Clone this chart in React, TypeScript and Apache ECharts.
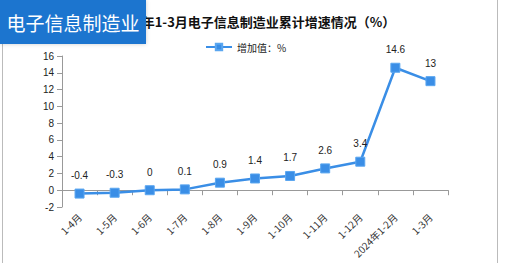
import React, { useEffect, useRef } from "react";
import * as echarts from "echarts";

const categories = ["1-4月", "1-5月", "1-6月", "1-7月", "1-8月", "1-9月", "1-10月", "1-11月", "1-12月", "2024年1-2月", "1-3月"];
const values = [-0.4, -0.3, 0, 0.1, 0.9, 1.4, 1.7, 2.6, 3.4, 14.6, 13];
const seriesName = "增加值：%";
const titleText = "2024年1-3月电子信息制造业累计增速情况（%）";
const badgeText = "电子信息制造业";

export default function App() {
  const ref = useRef<HTMLDivElement>(null);
  useEffect(() => {
    const chart = echarts.init(ref.current!, null, { renderer: "svg" });
    chart.setOption({
      animation: false,
      backgroundColor: "#fff",
      title: {
        text: titleText,
        left: 106,
        top: 10,
        textStyle: { fontSize: 13, fontWeight: "bold", color: "#111", fontFamily: "Noto Sans CJK SC" },
      },
      legend: {
        top: 37,
        left: 200,
        itemWidth: 26,
        itemHeight: 8,
        textStyle: { fontSize: 10, color: "#222", fontFamily: "Noto Sans CJK SC" },
        data: [seriesName],
      },
      grid: { left: 62, right: 62, top: 56, bottom: 56 },
      xAxis: {
        type: "category",
        data: categories,
        boundaryGap: true,
        axisLine: { lineStyle: { color: "#999" } },
        axisTick: { show: true, alignWithLabel: false, lineStyle: { color: "#999" } },
        axisLabel: { rotate: 45, fontSize: 10, color: "#333", interval: 0, margin: 8, fontFamily: "Noto Sans CJK SC" },
      },
      yAxis: {
        type: "value",
        min: -2,
        max: 16,
        interval: 2,
        axisLine: { show: true, lineStyle: { color: "#999" } },
        axisTick: { show: true, lineStyle: { color: "#999" } },
        splitLine: { show: false },
        axisLabel: { fontSize: 10, color: "#222", margin: 8 },
      },
      series: [
        {
          name: seriesName,
          type: "line",
          data: values,
          symbol: "rect",
          symbolSize: 9,
          lineStyle: { color: "#3a8ee6", width: 2.5 },
          itemStyle: { color: "#3a8ee6", borderColor: "#5aa6f0", borderWidth: 1 },
          label: { show: true, position: "top", fontSize: 10, color: "#222", distance: 8 },
        },
      ],
      graphic: [
        { type: "line", shape: { x1: 2.5, y1: 44, x2: 2.5, y2: 263 }, style: { stroke: "#bbb", lineWidth: 1 } },
        { type: "line", shape: { x1: 497.5, y1: 0, x2: 497.5, y2: 263 }, style: { stroke: "#bbb", lineWidth: 1 } },
        { type: "rect", shape: { x: 0, y: 0, width: 146, height: 44 }, style: { fill: "#1f74cf", shadowBlur: 4, shadowColor: "rgba(0,0,0,0.2)" }, z: 100 },
        {
          type: "text",
          x: 73,
          y: 22,
          z: 101,
          style: { text: badgeText, fill: "#fff", fontSize: 19, fontFamily: "Noto Sans CJK SC", align: "center", verticalAlign: "middle" },
        },
      ],
    });
    return () => chart.dispose();
  }, []);
  return <div ref={ref} style={{ position: "fixed", left: 0, top: 0, width: 510, height: 263 }} />;
}
